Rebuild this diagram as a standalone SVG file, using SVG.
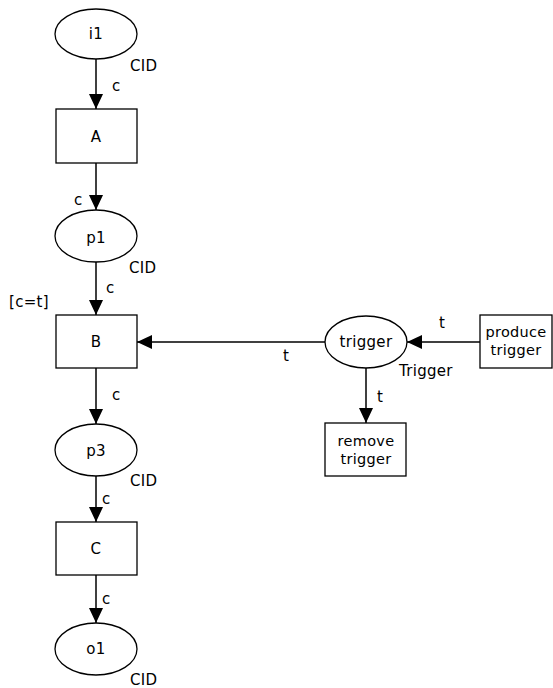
<svg xmlns="http://www.w3.org/2000/svg" width="553" height="688" viewBox="0 0 553 688">
<style>
.n{fill:#fff;stroke:#000;stroke-width:1.3}
.e{fill:none;stroke:#000;stroke-width:1.5}
text{font-family:"DejaVu Sans",Verdana,sans-serif;font-size:15px;letter-spacing:0.3px;fill:#000}
.c{text-anchor:middle}
.s{font-size:14.5px}
</style>
<defs>
<marker id="ah" markerUnits="userSpaceOnUse" markerWidth="16" markerHeight="14" refX="15" refY="7" orient="auto">
<polygon points="0,0 15,7 0,14" fill="#000"/>
</marker>
</defs>
<rect width="553" height="688" fill="#fff"/>
<g id="connectors">
<line class="e" x1="96" y1="59" x2="96" y2="109" marker-end="url(#ah)"/>
<line class="e" x1="96" y1="163" x2="96" y2="210" marker-end="url(#ah)"/>
<line class="e" x1="96" y1="262" x2="96" y2="315" marker-end="url(#ah)"/>
<line class="e" x1="96" y1="368" x2="96" y2="424" marker-end="url(#ah)"/>
<line class="e" x1="96" y1="476" x2="96" y2="522" marker-end="url(#ah)"/>
<line class="e" x1="96" y1="575" x2="96" y2="623" marker-end="url(#ah)"/>
<line class="e" x1="325" y1="342" x2="137" y2="342" marker-end="url(#ah)"/>
<line class="e" x1="480" y1="342" x2="407" y2="342" marker-end="url(#ah)"/>
<line class="e" x1="366" y1="368" x2="366" y2="423" marker-end="url(#ah)"/>
<text x="112" y="91">c</text>
<text x="74" y="205">c</text>
<text x="106" y="293">c</text>
<text x="112" y="400">c</text>
<text x="102" y="504">c</text>
<text x="102" y="604">c</text>
<text x="283" y="361">t</text>
<text x="439" y="328">t</text>
<text x="377" y="402">t</text>
</g>
<g id="i1">
<ellipse class="n" cx="96" cy="34" rx="41" ry="25"/>
<text class="c" x="96" y="39">i1</text>
<text x="130" y="71">CID</text>
</g>
<g id="A">
<rect class="n" x="56" y="109" width="81" height="54"/>
<text class="c" x="96" y="142">A</text>
</g>
<g id="p1">
<ellipse class="n" cx="96" cy="236" rx="41" ry="26"/>
<text class="c" x="96" y="243">p1</text>
<text x="129" y="273">CID</text>
</g>
<g id="B">
<rect class="n" x="56" y="315" width="81" height="53"/>
<text class="c" x="96" y="347">B</text>
<text x="9" y="307">[c=t]</text>
</g>
<g id="p3">
<ellipse class="n" cx="96" cy="450" rx="41" ry="26"/>
<text class="c" x="96" y="456">p3</text>
<text x="130" y="486">CID</text>
</g>
<g id="C">
<rect class="n" x="56" y="522" width="81" height="53"/>
<text class="c" x="96" y="554">C</text>
</g>
<g id="o1">
<ellipse class="n" cx="96" cy="649" rx="41" ry="26"/>
<text class="c" x="96" y="654">o1</text>
<text x="130" y="685">CID</text>
</g>
<g id="trigger">
<ellipse class="n" cx="366" cy="342" rx="41" ry="26"/>
<text class="c" x="366" y="347">trigger</text>
<text x="399" y="376">Trigger</text>
</g>
<g id="produce_trigger">
<rect class="n" x="480" y="315" width="72" height="53"/>
<text class="c s" x="516" y="337">produce</text>
<text class="c s" x="516" y="355">trigger</text>
</g>
<g id="remove_trigger">
<rect class="n" x="325" y="423" width="81" height="53"/>
<text class="c s" x="366" y="446">remove</text>
<text class="c s" x="366" y="464">trigger</text>
</g>
</svg>
